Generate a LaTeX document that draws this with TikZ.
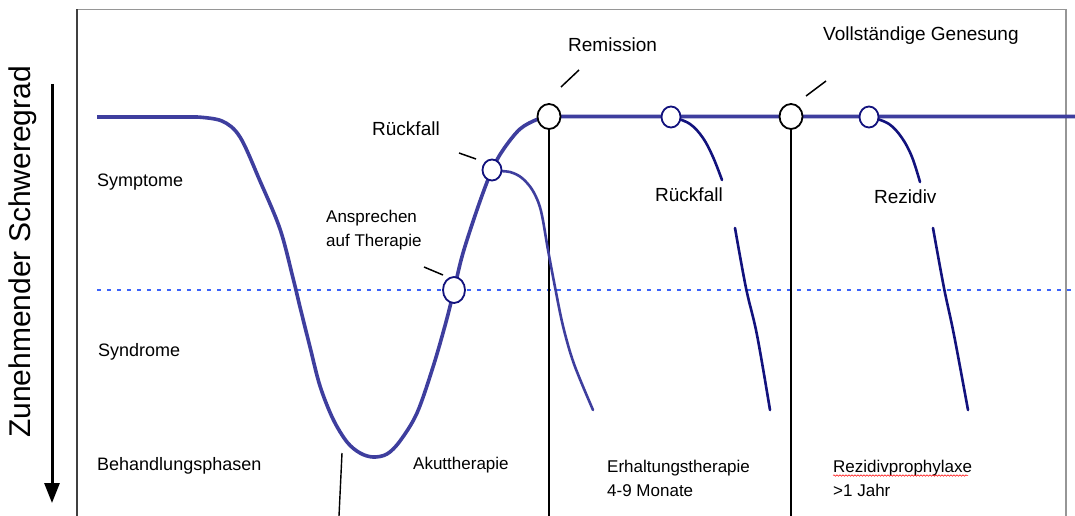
\documentclass[tikz,border=0pt]{standalone}
\usepackage{fontspec}
\setmainfont{Liberation Sans}
\usetikzlibrary{arrows.meta,shapes.geometric,decorations.pathmorphing}
\definecolor{curveblue}{RGB}{62,62,158}
\definecolor{navyline}{RGB}{18,18,125}
\definecolor{dotblue}{RGB}{60,100,250}
\definecolor{framegray}{RGB}{150,150,150}
\begin{document}
\begin{tikzpicture}[x=1pt,y=-1pt,
  lbl/.style={anchor=west,inner sep=0pt,align=left,font=\fontsize{17}{24}\selectfont},
  lblm/.style={anchor=west,inner sep=0pt,font=\fontsize{18}{22}\selectfont},
  lblb/.style={anchor=west,inner sep=0pt,font=\fontsize{19}{22}\selectfont},
  mainline/.style={curveblue,line width=3.6pt,line join=round},
  relapse/.style={curveblue,line width=2.6pt,line cap=round},
  branch/.style={navyline,line width=2.6pt,line cap=round},
  vline/.style={black,line width=1.8pt},
  leader/.style={black,line width=1.5pt},
  bigring/.style={ellipse,draw=black,fill=white,line width=1.8pt,minimum width=23pt,minimum height=25pt,inner sep=0pt},
  ring/.style={ellipse,draw=navyline,fill=white,line width=1.8pt,minimum width=19pt,minimum height=21pt,inner sep=0pt},
  ringb/.style={ellipse,draw=navyline,fill=white,line width=1.8pt,minimum width=22pt,minimum height=26pt,inner sep=0pt},
  dots/.style={dotblue,line width=2.1pt,dash pattern=on 3.5pt off 6.5pt}
]
\useasboundingbox (0,0) rectangle (1075,516);
\fill[white] (0,0) rectangle (1075,516);

% frame
\draw[framegray,line width=1.5pt] (77,516) -- (77,9.5) -- (1066,9.5) -- (1066,516);
\draw[black!75,line width=1.4pt] (77,516) -- (77,9.5);

% axis arrow and label
\coordinate (axtop) at (52,84);
\coordinate (axbot) at (52,503);
\draw[black,line width=3pt,-{Triangle[length=20pt,width=15pt]}] (axtop) -- (axbot);
\node[rotate=90,inner sep=0pt,font=\fontsize{30}{33}\selectfont] (axlbl) at (23,252) {Zunehmender Schweregrad};

% dotted threshold
\coordinate (dotL) at (97,290);
\coordinate (dotR) at (1075,290);
\draw[dots] (dotL) -- (dotR);

% circle positions
\coordinate (rem) at (549,116.5);
\coordinate (gen) at (791,116.5);
\coordinate (rk1) at (492,170);
\coordinate (ans) at (454,290);
\coordinate (rk2) at (671,117);
\coordinate (rz) at (869,117);

% vertical phase lines
\coordinate (remB) at (549,516);
\coordinate (genB) at (791,516);
\draw[vline] (rem) -- (remB);
\draw[vline] (gen) -- (genB);
\coordinate (akT) at (342,453);
\coordinate (akB) at (339,516);
\draw[black,line width=1.4pt] (akT) -- (akB);

% main curve
\draw[mainline] (97,117) -- (197,117)
  -- plot[smooth,tension=0.55] coordinates {(197,117) (222,121) (240,137) (260,181) (280,229) (293,278) (300,307) (310,347) (320,386) (333,419) (347,442) (360,453) (373,457) (387,454) (400,441) (417,413) (433,367) (446,322) (454,290) (463,253) (479,204) (492,170) (503,150) (520,129) (538,119) (549,116.5)}
  -- (1075,116.5);

% relapse branch after response
\draw[relapse] plot[smooth,tension=0.55] coordinates {(496,171) (510,172) (522,178) (533,191) (541,211) (548,250) (555,287) (563,326) (574,364) (593,410)};

% relapse during maintenance
\draw[branch] plot[smooth,tension=0.6] coordinates {(673,117) (690,124) (703,138) (713,157) (722,180)};
\draw[branch] plot[smooth,tension=0.6] coordinates {(735,228) (746,288) (757,335) (770,410)};
% recurrence
\draw[branch] plot[smooth,tension=0.6] coordinates {(871,117) (889,124) (902,138) (912,157) (920,182)};
\draw[branch] plot[smooth,tension=0.6] coordinates {(933,228) (944,288) (954,335) (968,410)};

% rings
\node[bigring] (remN) at (rem) {};
\node[bigring] (genN) at (gen) {};
\node[ring] (rk1N) at (rk1) {};
\node[ringb] (ansN) at (ans) {};
\node[ring] (rk2N) at (rk2) {};
\node[ring] (rzN) at (rz) {};

% leader lines
\coordinate (lremA) at (561,87);  \coordinate (lremB) at (579,70);
\coordinate (lgenA) at (806,96);  \coordinate (lgenB) at (826,81);
\coordinate (lrkA) at (459,153);  \coordinate (lrkB) at (476,159);
\coordinate (lanA) at (424,267);  \coordinate (lanB) at (443,275);
\draw[leader] (lremA) -- (lremB);
\draw[leader] (lgenA) -- (lgenB);
\draw[leader] (lrkA) -- (lrkB);
\draw[leader] (lanA) -- (lanB);

% labels
\node[lblb] (tRem) at (568,45) {Remission};
\node[lblb] (tGen) at (823,36) {Vollständige Genesung};
\node[lblb] (tRk1) at (372,129) {Rückfall};
\node[lbl] (tAns) at (326,230) {Ansprechen\\auf Therapie};
\node[lblb] (tRk2) at (655,195) {Rückfall};
\node[lblb] (tRz) at (874,197) {Rezidiv};

\node[lblm] (tSym) at (97,182) {Symptome};
\node[lblm] (tSyn) at (98,352) {Syndrome};
\node[lblm] (tBeh) at (97,466) {Behandlungsphasen};
\node[lbl] (tAku) at (413,465) {Akuttherapie};
\node[lbl] (tErh) at (607,478) {Erhaltungstherapie\\4-9 Monate};
\node[lbl] (tRzp) at (833,478) {Rezidivprophylaxe\\>1 Jahr};
\draw[red,line width=0.5pt,decorate,decoration={snake,amplitude=0.7pt,segment length=3pt}] (833,475.5) -- (968,475.5);
\end{tikzpicture}
\end{document}
